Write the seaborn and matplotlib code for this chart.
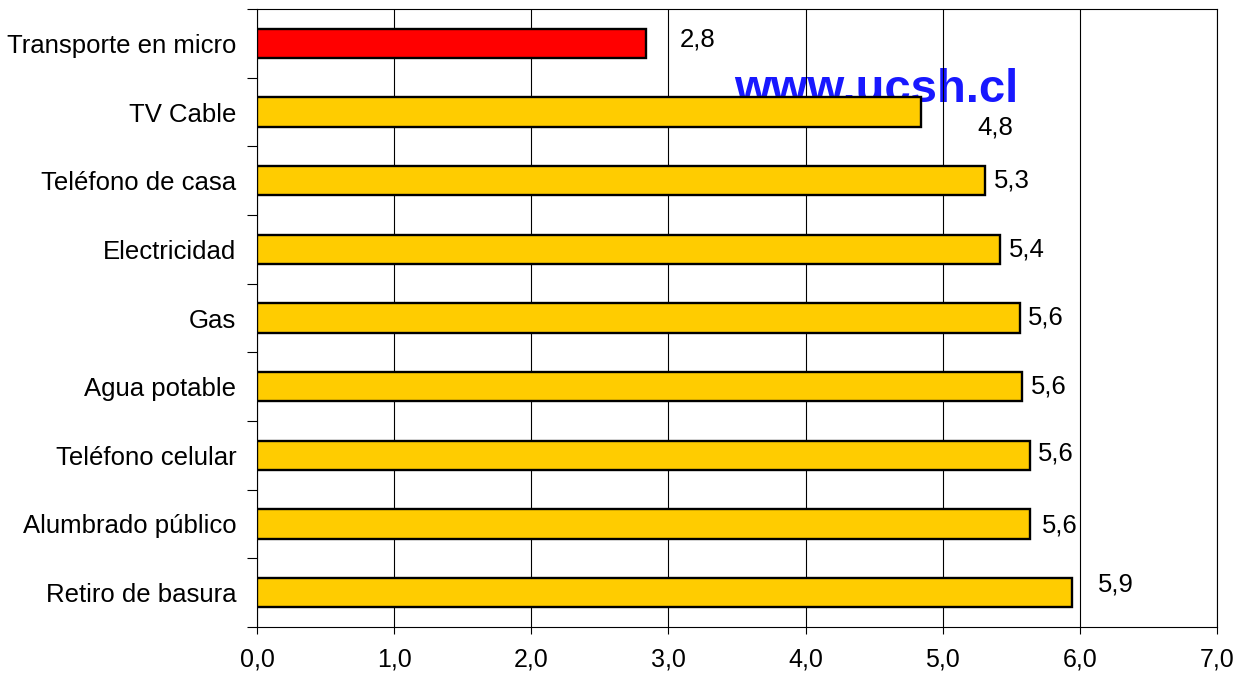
import matplotlib
matplotlib.use("Agg")
import matplotlib.pyplot as plt
import seaborn as sns
import pandas as pd
import numpy as np
from matplotlib.ticker import FixedLocator, FuncFormatter

categories = ["Transporte en micro", "TV Cable", "Teléfono de casa", "Electricidad",
              "Gas", "Agua potable", "Teléfono celular", "Alumbrado público",
              "Retiro de basura"]
values = [2.84, 4.84, 5.31, 5.42, 5.56, 5.58, 5.64, 5.64, 5.94]
bar_colors = ["#FF0000"] + ["#FFCC00"] * 8
# label offsets in points (dx, dy)
label_offsets = [(24, 3), (41, -11), (6, 0), (6, 0), (6, 0), (6, 0), (5, 1), (8, -1), (19, 6)]
xticks = [0, 1, 2, 3, 4, 5, 6, 7]

sns.set_theme(style="white")
plt.rcParams['font.family'] = ['Liberation Sans', 'DejaVu Sans']
FS = 18.5

df = pd.DataFrame({"cat": categories, "val": values})

fig = plt.figure(figsize=(12.34, 6.76), dpi=100)
ax = fig.add_axes([257/1234, 1-627/676, (1217-257)/1234, (627-9)/676])

sns.barplot(data=df, y="cat", x="val", hue="cat", palette=bar_colors, legend=False,
            orient="h", width=0.43, edgecolor="black", linewidth=1.7, saturation=1,
            ax=ax, zorder=3)

ax.set_xlim(0, 7)
ax.set_ylim(len(categories) - 0.5, -0.5)
ax.set_xlabel("")
ax.set_ylabel("")

ax.xaxis.set_major_locator(FixedLocator(xticks))
ax.xaxis.set_major_formatter(FuncFormatter(lambda v, p: f"{v:.1f}".replace(".", ",")))
ax.grid(axis="x", color="black", linewidth=0.8)
ax.set_axisbelow(True)

ax.yaxis.set_minor_locator(FixedLocator(np.arange(-0.5, len(categories), 1.0)))
ax.tick_params(axis="y", which="major", length=0, pad=15, labelsize=FS, labelcolor="black")
ax.tick_params(axis="y", which="minor", length=7, width=0.8, color="black", direction="out", left=True)
ax.tick_params(axis="x", which="major", length=5, width=0.8, color="black", direction="out",
               bottom=True, pad=10, labelsize=18, labelcolor="black")

for s in ax.spines.values():
    s.set_visible(True)
    s.set_color("black")
    s.set_linewidth(0.8)

# watermark (behind bars and grid)
ax.text(0.645, (627 - 102) / 618, "www.ucsh.cl", transform=ax.transAxes, ha="center",
        va="baseline", fontsize=34, fontweight="bold", color="#1818ff", zorder=0.3)

for i, (v, (dx, dy)) in enumerate(zip(values, label_offsets)):
    ax.annotate(f"{v:.1f}".replace(".", ","), xy=(v, i), xytext=(dx, dy),
                textcoords="offset points", ha="left", va="center", fontsize=FS,
                color="black", zorder=5)

fig.savefig("out.png", dpi=100)
